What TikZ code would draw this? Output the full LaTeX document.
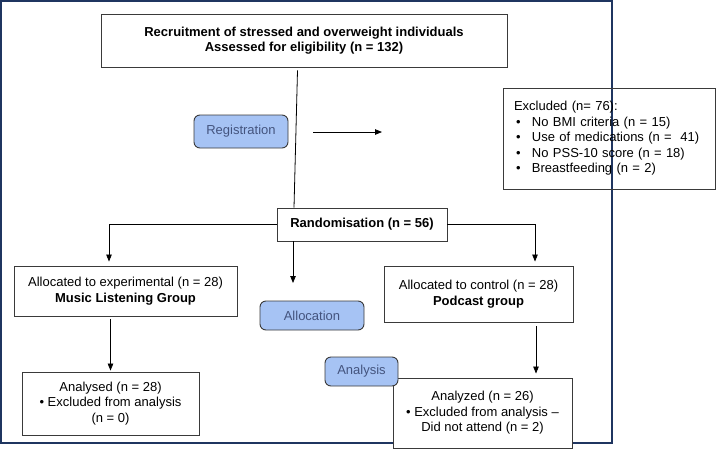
\documentclass[tikz,border=0pt]{standalone}
\usepackage{fontspec}
\setmainfont{Liberation Sans}
\usepackage{tikz}
\usetikzlibrary{arrows.meta,positioning,calc}
\definecolor{Frame}{HTML}{1F3560}
\definecolor{Edge}{HTML}{3A3A3A}
\definecolor{Stage}{HTML}{A6C3F4}
\definecolor{StageText}{HTML}{44547E}

\begin{document}
\begin{tikzpicture}[x=1pt,y=-1pt,
    font=\fontsize{13}{15.5}\selectfont,
    box/.style={draw=Edge,line width=0.9pt,fill=white,align=center,inner sep=0pt},
    stage/.style={draw=Edge,line width=0.9pt,fill=Stage,rounded corners=6pt,text=StageText,inner sep=0pt},
    arr/.style={-{Triangle[length=7pt,width=5.5pt]},line width=0.8pt,black}]
        \useasboundingbox (0,0) rectangle (717,450);
        \draw[Frame,line width=1.3pt] (1,1) rectangle (612,443);
        % boxes
        \node[box,minimum width=406,minimum height=53] (recruit) at (304,40.5)
          {\textbf{Recruitment of stressed and overweight individuals}\\\textbf{Assessed for eligibility (n = 132)}};
        \node[box,fill=none,align=left,text width=190,inner xsep=11pt,minimum height=101] (excl) at (609,138.5)
          {Excluded (n= 76):\\
           \hspace*{2pt}\makebox[16pt][l]{\textbullet}No BMI criteria (n = 15)\\
           \hspace*{2pt}\makebox[16pt][l]{\textbullet}Use of medications (n =\ \ 41)\\
           \hspace*{2pt}\makebox[16pt][l]{\textbullet}No PSS-10 score (n = 18)\\
           \hspace*{2pt}\makebox[16pt][l]{\textbullet}Breastfeeding (n = 2)};
        \node[box,minimum width=170,minimum height=33] (rand) at (362,224.5) {\textbf{Randomisation (n = 56)}};
        \node[box,minimum width=223,minimum height=50] (exp) at (125.5,291)
          {Allocated to experimental (n = 28)\\\textbf{Music Listening Group}};
        \node[box,minimum width=189,minimum height=56] (ctrl) at (478.5,294)
          {Allocated to control (n = 28)\\\textbf{Podcast group}};
        \node[box,minimum width=177,minimum height=63] (ana1) at (110.5,403.5)
          {Analysed (n = 28)\\\textbullet{} Excluded from analysis\\(n = 0)};
        \node[box,minimum width=179,minimum height=70] (ana2) at (482.5,413)
          {Analyzed (n = 26)\\\textbullet{} Excluded from analysis --\\Did not attend (n = 2)};
        % stage labels
        \node[stage,minimum width=94,minimum height=33] (reg) at (241,131.5) {Registration};
        \node[stage,minimum width=104,minimum height=29] (alloc) at (312,315.5) {Allocation};
        \node[stage,minimum width=73,minimum height=29] (anal) at (361.5,371.5) {Analysis};
        % connectors
        \coordinate (regA) at (313,132);
        \coordinate (regB) at (382,132);
        \coordinate (midtip) at (293,283);
        \draw[arr] (regA) -- (regB);
        \draw[line width=0.8pt] ([shift={(-6.5,3)}]recruit.south) -- ([xshift=-68pt]rand.north);
        \draw[arr] (rand.west) -| ([shift={(-16.5,-4)}]exp.north);
        \draw[arr] (rand.east) -| ([shift={(56.5,-4)}]ctrl.north);
        \draw[arr] (rand.south -| midtip) -- (midtip);
        \draw[arr] ([shift={(0,3)}]exp.south -| ana1) -- ([shift={(0,-1)}]ana1.north);
        \draw[arr] ([shift={(57.5,4)}]ctrl.south) -- ([shift={(53.5,-4)}]ana2.north);
      \end{tikzpicture}
\end{document}
